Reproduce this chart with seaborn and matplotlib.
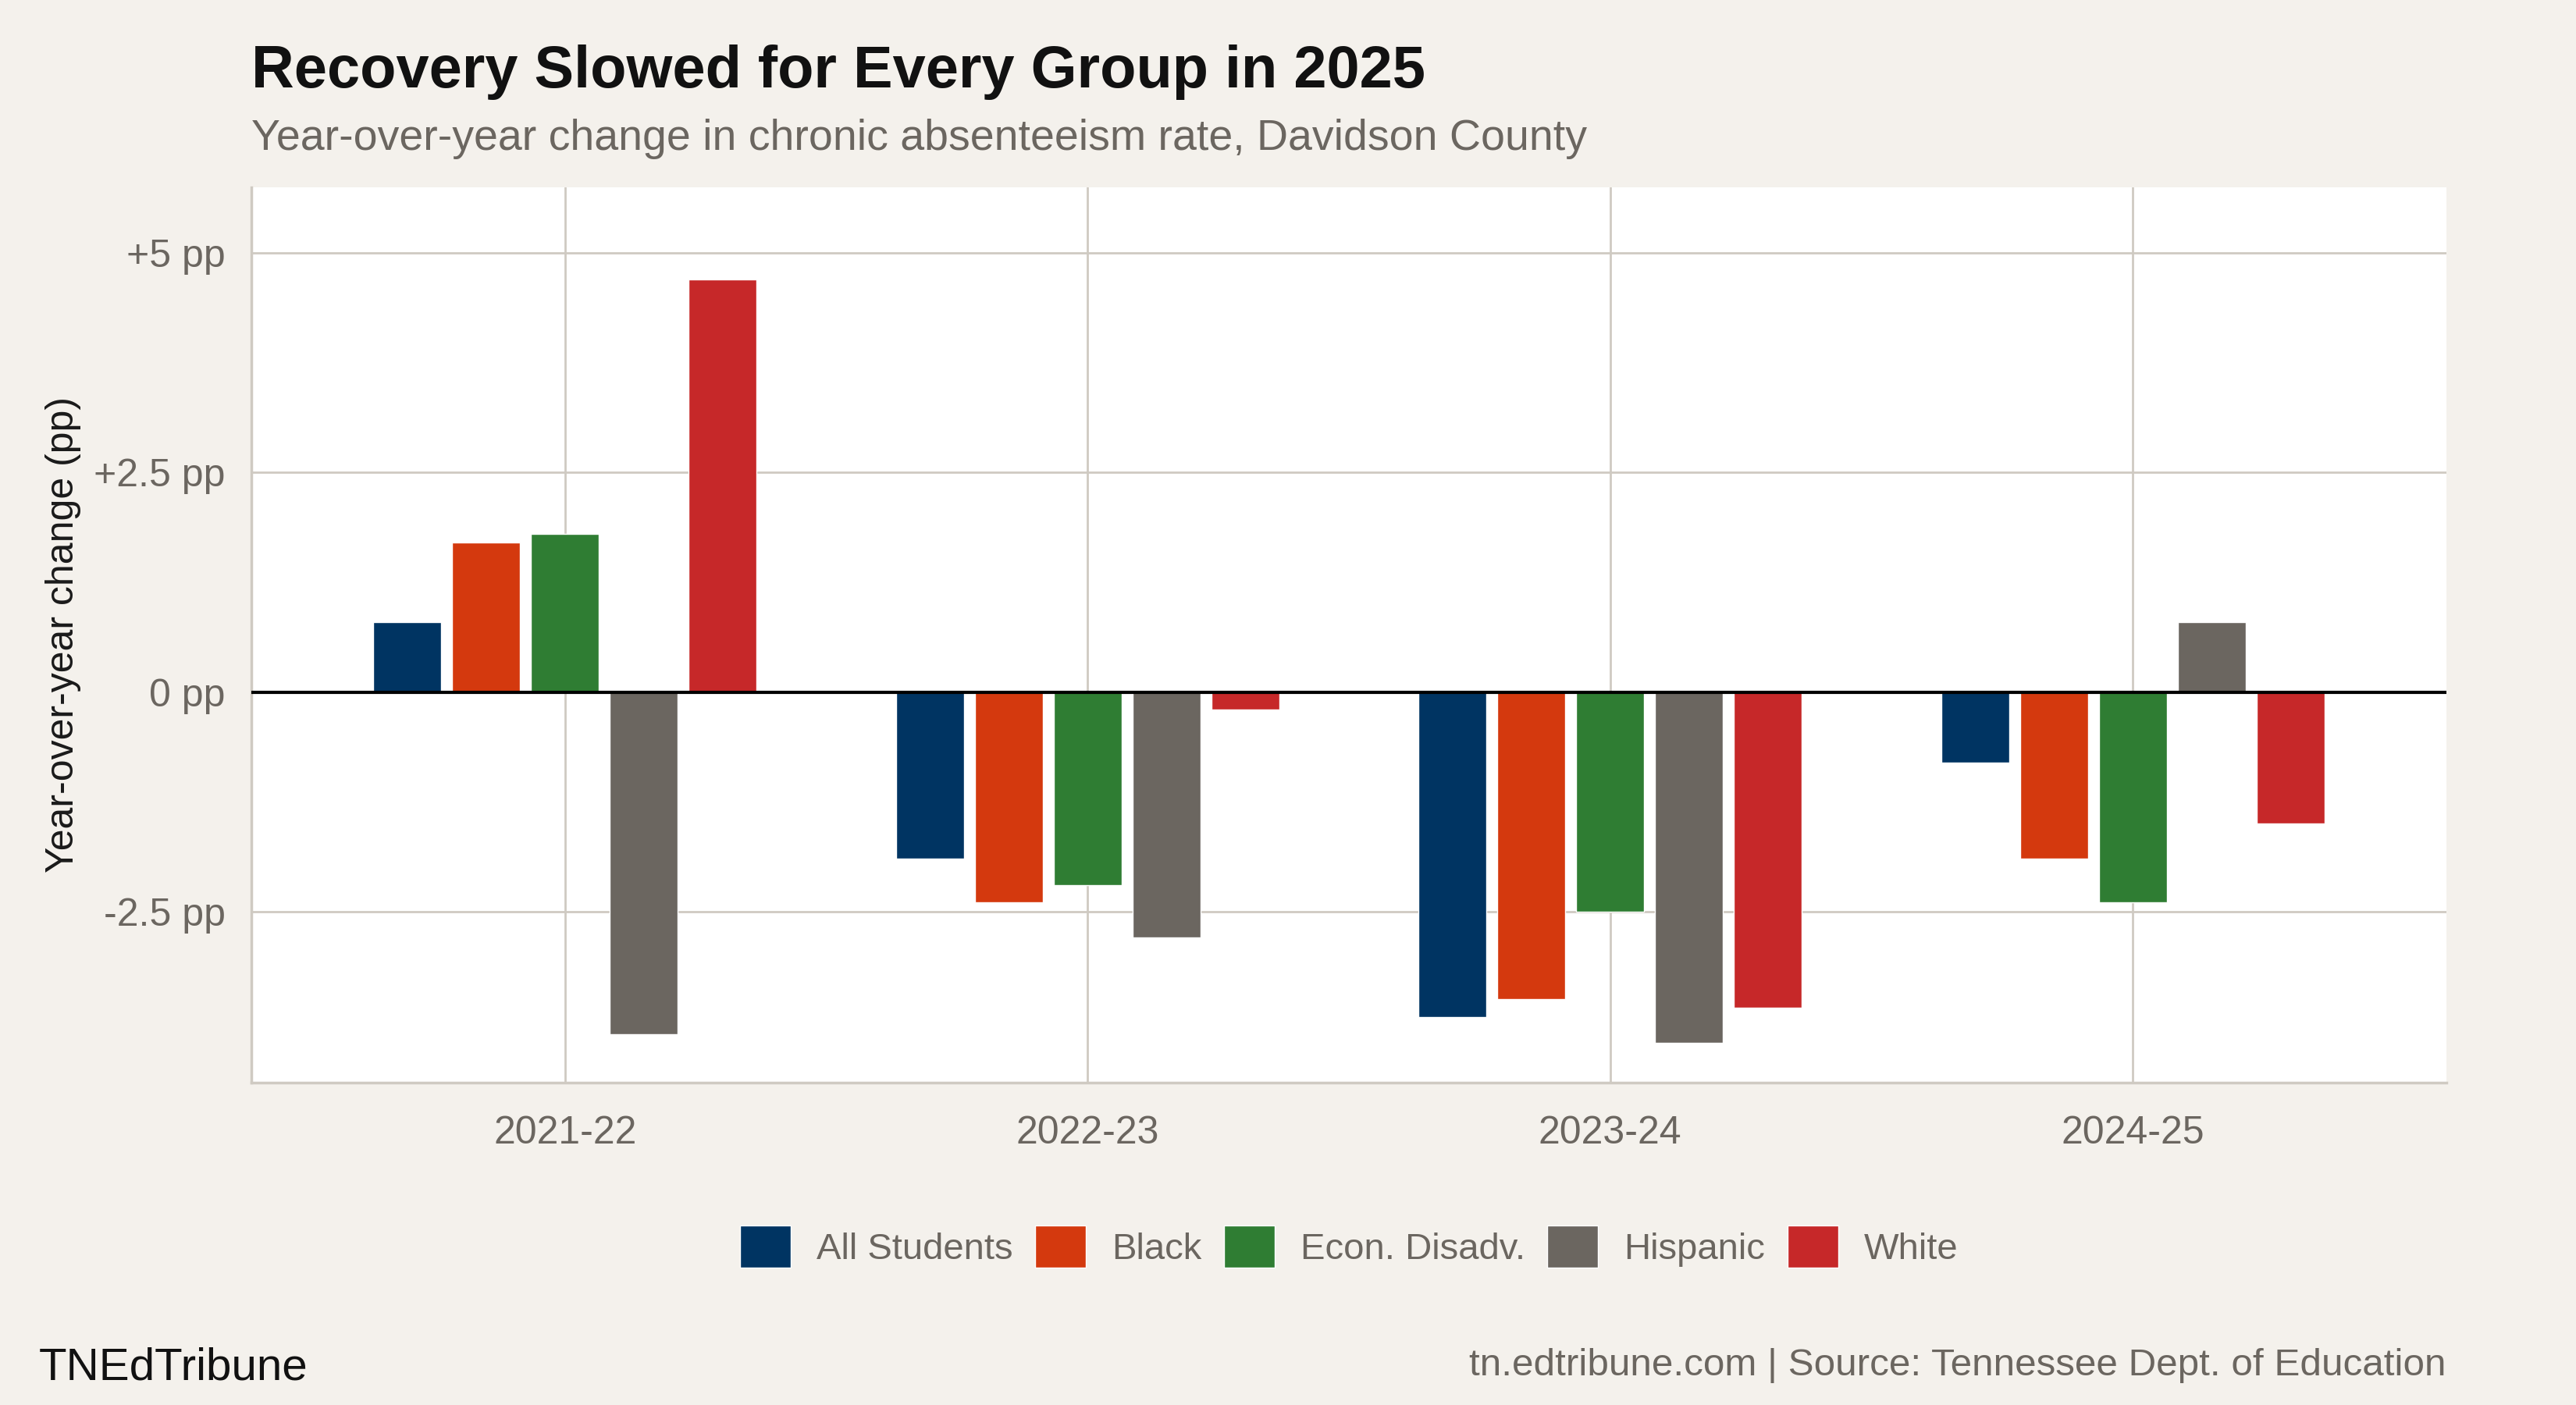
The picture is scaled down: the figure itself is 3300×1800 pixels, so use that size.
import pandas as pd
import matplotlib.pyplot as plt
import seaborn as sns

# Datos (puntos porcentuales)
years = ["2021-22", "2022-23", "2023-24", "2024-25"]
groups = ["All Students", "Black", "Econ. Disadv.", "Hispanic", "White"]
all_students = [0.8, -1.9, -3.7, -0.8]
black = [1.7, -2.4, -3.5, -1.9]
econ_disadv = [1.8, -2.2, -2.5, -2.4]
hispanic = [-3.9, -2.8, -4.0, 0.8]
white = [4.7, -0.2, -3.6, -1.5]
yticks = [-2.5, 0, 2.5, 5]
ytick_labels = ["-2.5 pp", "0 pp", "+2.5 pp", "+5 pp"]

colores = ["#003462", "#D4390E", "#2F7D33", "#6B6660", "#C62829"]
bg = "#F4F1EC"
gris = "#6B6660"
grid_col = "#CFCAC2"

series = [all_students, black, econ_disadv, hispanic, white]
df = pd.DataFrame({
    "year": [y for s in series for y in years],
    "group": [g for g, s in zip(groups, series) for _ in s],
    "change": [v for s in series for v in s],
})

sns.set_style("white")
plt.rcParams['font.family'] = ['Liberation Sans', 'DejaVu Sans']

W, H = 3300, 1800
fig = plt.figure(figsize=(33, 18), dpi=100, facecolor=bg)
ax = fig.add_axes([322 / W, 1 - 1387 / H, (3134 - 322) / W, (1387 - 240) / H])
ax.set_facecolor("white")

sns.barplot(data=df, x="year", y="change", hue="group", order=years, hue_order=groups,
            palette=colores, width=0.755, gap=0.14, saturation=1, ax=ax, zorder=3)

ax.set_xlim(-0.6, 3.6)
ax.set_ylim(-4.45, 5.75)
ax.set_yticks(yticks)
ax.set_yticklabels(ytick_labels)
ax.axhline(0, color="black", lw=3, zorder=4)

ax.grid(True, color=grid_col, lw=2, zorder=0)
ax.set_axisbelow(True)
for s in ["top", "right"]:
    ax.spines[s].set_visible(False)
for s in ["left", "bottom"]:
    ax.spines[s].set_color(grid_col)
    ax.spines[s].set_linewidth(2.5)
ax.tick_params(axis="both", length=10, width=2, color=grid_col, labelsize=36, labelcolor=gris)
ax.tick_params(axis="y", pad=14)
ax.tick_params(axis="x", pad=20)

ax.set_xlabel("")
ax.set_ylabel("Year-over-year change (pp)", fontsize=36, color="#1a1a1a", labelpad=12)

# Leyenda inferior, centrada bajo el panel
handles, labels = ax.get_legend_handles_labels()
ax.legend(handles, labels, loc="center",
          bbox_to_anchor=((322 + 3134) / 2 / W, 1 - 1597 / H),
          bbox_transform=fig.transFigure, ncol=5, frameon=False, fontsize=34,
          labelcolor=gris, handlelength=1.38, handleheight=1.38,
          handletextpad=0.7, columnspacing=0.6)

# Títulos y pie
fig.text(322 / W, 1 - 112 / H, "Recovery Slowed for Every Group in 2025",
         fontsize=54.5, fontweight="bold", color="#111111", va="baseline", ha="left")
fig.text(322 / W, 1 - 192 / H, "Year-over-year change in chronic absenteeism rate, Davidson County",
         fontsize=40, color=gris, va="baseline", ha="left")
fig.text(50 / W, 1 - 1767 / H, "TNEdTribune", fontsize=42, color="#111111",
         va="baseline", ha="left")
fig.text(3134 / W, 1 - 1762 / H, "tn.edtribune.com | Source: Tennessee Dept. of Education",
         fontsize=35.6, color=gris, va="baseline", ha="right")

fig.savefig("out.png", dpi=100, facecolor=bg)
